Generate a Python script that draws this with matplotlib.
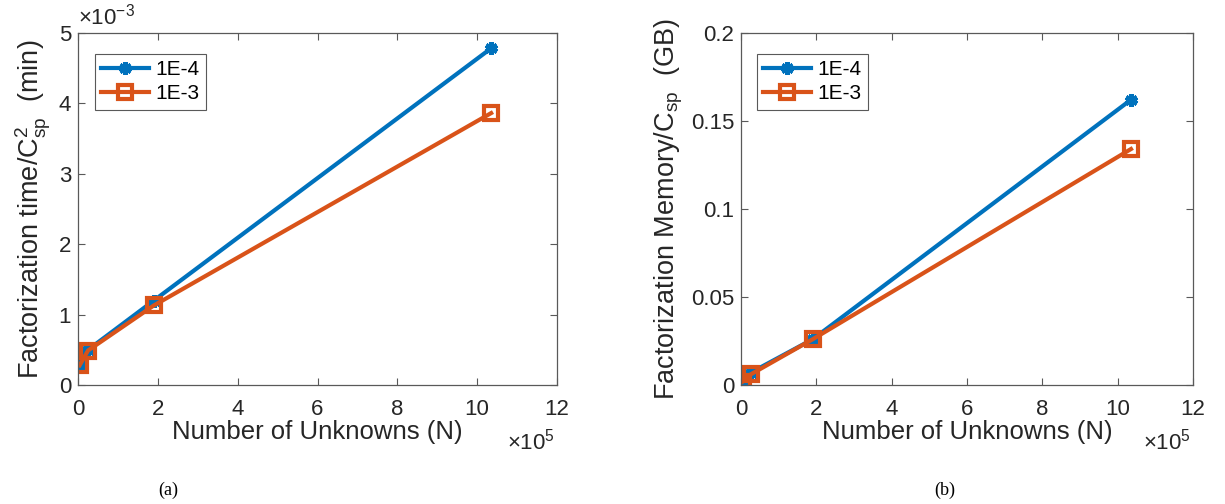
import matplotlib.pyplot as plt
import numpy as np
from matplotlib.ticker import FuncFormatter

plt.rcParams['font.family'] = ['Liberation Sans', 'DejaVu Sans']
plt.rcParams['mathtext.fontset'] = 'custom'
plt.rcParams['mathtext.rm'] = 'Liberation Sans'
plt.rcParams['mathtext.it'] = 'Liberation Sans'

# Data
unknowns = [4000, 25000, 190000, 1035000]
time_1e4 = [0.28e-3, 0.50e-3, 1.20e-3, 4.78e-3]
time_1e3 = [0.28e-3, 0.49e-3, 1.13e-3, 3.86e-3]
mem_1e4 = [0.002, 0.007, 0.026, 0.162]
mem_1e3 = [0.002, 0.006, 0.026, 0.134]
labels = ['1E-4', '1E-3']

blue = '#0072BD'
orange = '#D95319'
axcol = '0.35'
txtcol = '#262626'

fig = plt.figure(figsize=(12.25, 5.04), dpi=100)
ax1 = fig.add_axes([0.0637, 0.236, 0.391, 0.699])
ax2 = fig.add_axes([0.605, 0.236, 0.369, 0.699])


def style(ax):
    for s in ax.spines.values():
        s.set_color(axcol)
        s.set_linewidth(0.9)
    ax.tick_params(direction='in', length=5, width=0.8, colors=axcol,
                   labelcolor=txtcol, labelsize=16, top=True, right=True)
    ax.tick_params(axis='x', pad=10)
    ax.tick_params(axis='y', pad=5)
    ax.set_xlim(0, 12e5)
    ax.set_xticks(np.arange(0, 13, 2) * 1e5)
    ax.xaxis.set_major_formatter(FuncFormatter(lambda v, p: '%g' % (v / 1e5)))
    ax.text(0.995, -0.125, r'$\times\mathdefault{10^{5}}$', transform=ax.transAxes,
            fontsize=16, color=txtcol, ha='right', va='top')
    ax.set_xlabel('Number of Unknowns (N)', fontsize=18.5, color=txtcol,
                  labelpad=0)


def plot_pair(ax, y1, y2):
    ax.plot(unknowns, y1, color=blue, lw=3, marker=(6, 2, 0), ms=9,
            mew=3.5, mec=blue, label=labels[0])
    ax.plot(unknowns, y2, color=orange, lw=3, marker='s', ms=10,
            mfc='none', mew=3, mec=orange, label=labels[1])
    leg = ax.legend(loc='upper left', bbox_to_anchor=(0.035, 0.94),
                    fontsize=15, fancybox=False, handlelength=2.3,
                    borderpad=0.3, labelspacing=0.25, handletextpad=0.3,
                    borderaxespad=0, framealpha=1)
    leg.get_frame().set_edgecolor(axcol)
    leg.get_frame().set_linewidth(0.8)


plot_pair(ax1, time_1e4, time_1e3)
style(ax1)
ax1.set_ylim(0, 5e-3)
ax1.set_yticks(np.arange(0, 6) * 1e-3)
ax1.yaxis.set_major_formatter(FuncFormatter(lambda v, p: '%g' % (v * 1e3)))
ax1.text(0.0, 1.01, r'$\times\mathdefault{10^{-3}}$', transform=ax1.transAxes,
         fontsize=16, color=txtcol, ha='left', va='bottom')
ax1.set_ylabel('Factorization time/C$_{\\mathrm{sp}}^{2}$  (min)', fontsize=19.5,
               color=txtcol, labelpad=4)

plot_pair(ax2, mem_1e4, mem_1e3)
style(ax2)
ax2.set_ylim(0, 0.2)
ax2.set_yticks([0, 0.05, 0.1, 0.15, 0.2])
ax2.yaxis.set_major_formatter(FuncFormatter(lambda v, p: '%g' % v))
ax2.set_ylabel('Factorization Memory/C$_{\\mathrm{sp}}$  (GB)', fontsize=19.5,
               color=txtcol, labelpad=4)

fig.text(0.137, 0.018, '(a)', fontsize=13, family='Liberation Serif', ha='center')
fig.text(0.771, 0.018, '(b)', fontsize=13, family='Liberation Serif', ha='center')

fig.savefig('out.png', dpi=100)
